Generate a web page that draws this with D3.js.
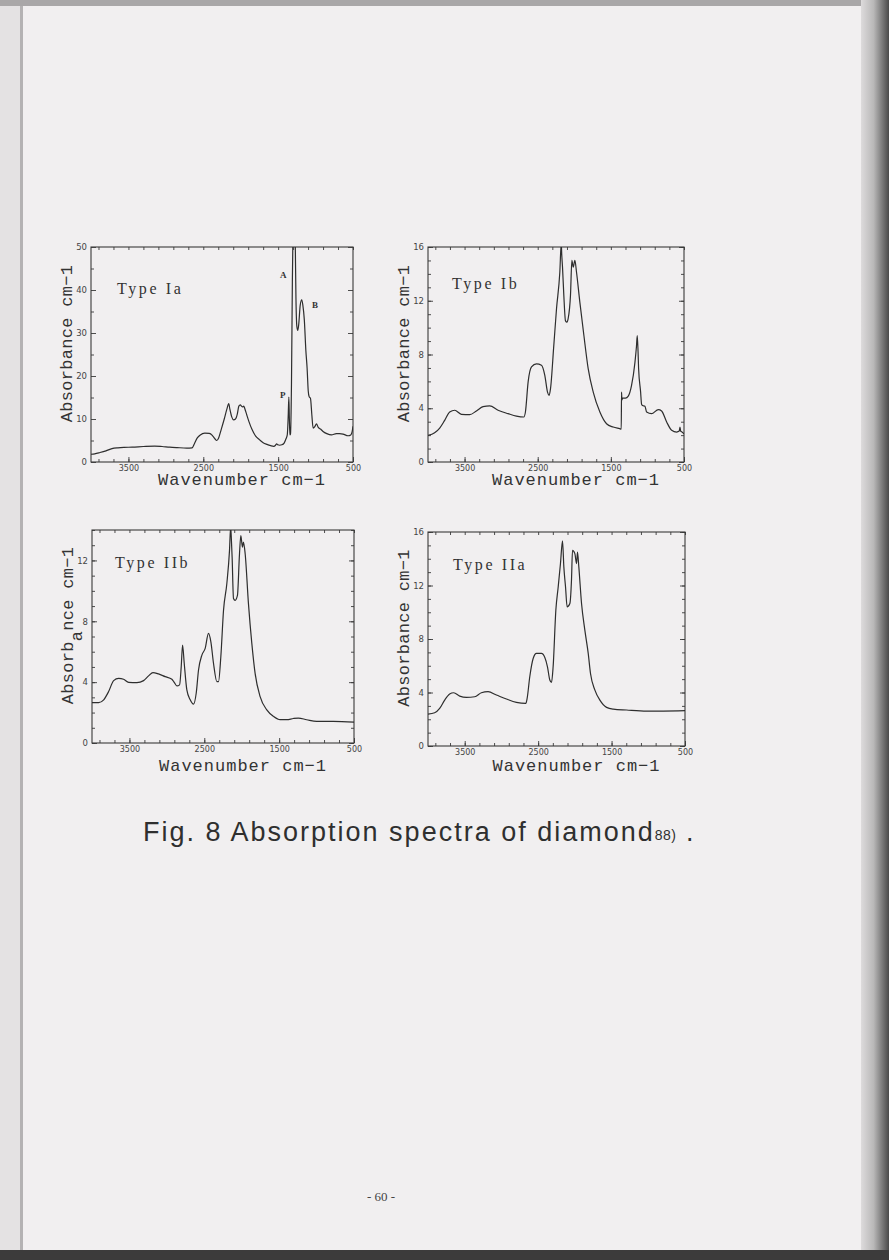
<!DOCTYPE html>
<html>
<head>
<meta charset="utf-8">
<script src="https://cdn.jsdelivr.net/npm/d3@7"></script>
<style>
body{margin:0;background:#efedee;}
svg{display:block;}
</style>
</head>
<body>
<svg id="page" width="889" height="1260"></svg>
<script>
// wavenumber ticks shared by all four panels
var xLabels = [3500, 2500, 1500, 500];
var xMinor = [3900, 3700, 3500, 3300, 3100, 2900, 2700, 2500, 2300, 2100, 1900, 1700, 1500, 1300, 1100, 900, 700, 500];

// Type Ia
var typeIaWave = [4000, 3950, 3880, 3800, 3720, 3640, 3560, 3450, 3300, 3150, 3050, 2950, 2850, 2720, 2650, 2620, 2580, 2540, 2480, 2420, 2380, 2345, 2320, 2295, 2260, 2220, 2185, 2160, 2145, 2120, 2095, 2070, 2045, 2025, 2005, 1990, 1975, 1960, 1945, 1920, 1890, 1850, 1800, 1750, 1700, 1650, 1600, 1560, 1535, 1520, 1505, 1480, 1450, 1420, 1395, 1378, 1366, 1357, 1350, 1343, 1335, 1322, 1310, 1298, 1285, 1272, 1262, 1250, 1238, 1225, 1205, 1185, 1170, 1150, 1130, 1113, 1098, 1086, 1068, 1050, 1033, 1010, 988, 966, 930, 900, 850, 788, 722, 680, 633, 566, 530, 512, 500];
var typeIaAbs = [1.8, 1.9, 2.2, 2.6, 3.1, 3.3, 3.4, 3.45, 3.6, 3.7, 3.6, 3.45, 3.35, 3.25, 3.3, 4.2, 5.6, 6.3, 6.7, 6.65, 6.2, 5.4, 5.0, 5.6, 7.6, 10.0, 12.3, 13.6, 12.3, 10.5, 9.8, 10.0, 11.2, 13.0, 13.3, 13.0, 12.8, 13.0, 12.4, 11.0, 9.4, 7.6, 6.0, 5.2, 4.5, 4.1, 3.8, 3.65, 3.9, 4.25, 4.0, 3.9, 4.0, 4.4, 5.4, 6.3, 10.5, 15.1, 10.0, 6.3, 6.5, 18, 42, 58, 62, 52, 38, 31.5, 30.6, 32, 36.5, 37.7, 36.5, 33, 26, 21.8, 16.5, 15.2, 14.8, 11, 7.9, 8.2, 8.9, 8.1, 7.6, 7.1, 6.6, 6.3, 6.6, 6.6, 6.5, 6.1, 6.3, 7.0, 8.3];
var typeIaTicks = [0, 10, 20, 30, 40, 50];
var typeIaMinor = [5, 15, 25, 35, 45];

// Type Ib
var typeIbWave = [4000, 3909, 3840, 3772, 3703, 3635, 3544, 3430, 3338, 3247, 3156, 3042, 2905, 2791, 2690, 2668, 2631, 2585, 2517, 2449, 2403, 2366, 2344, 2325, 2280, 2243, 2198, 2178, 2172, 2161, 2143, 2120, 2100, 2084, 2052, 2033, 2015, 1992, 1969, 1924, 1869, 1810, 1741, 1650, 1559, 1468, 1380, 1358, 1354, 1349, 1340, 1300, 1262, 1217, 1171, 1150, 1139, 1128, 1121, 1093, 1080, 1066, 1034, 1011, 943, 851, 806, 737, 669, 600, 565, 555, 545, 532, 500];
var typeIbAbs = [1.98, 2.18, 2.53, 3.1, 3.72, 3.85, 3.55, 3.52, 3.8, 4.12, 4.17, 3.85, 3.6, 3.42, 3.35, 3.72, 5.96, 7.07, 7.3, 7.2, 6.45, 5.2, 4.96, 5.46, 8.68, 11.4, 14.1, 16.3, 15.5, 14.5, 12.4, 10.5, 10.4, 10.67, 12.4, 15.0, 14.5, 15.0, 14.1, 11.9, 9.43, 6.95, 5.2, 3.72, 2.85, 2.6, 2.48, 2.45, 5.2, 4.6, 4.75, 4.75, 4.9, 5.7, 7.4, 8.6, 9.4, 8.2, 7.0, 5.2, 4.3, 4.2, 4.15, 3.72, 3.6, 3.9, 3.8, 2.98, 2.36, 2.23, 2.3, 2.6, 2.3, 2.25, 2.1];

// Type IIb
var typeIIbWave = [4000, 3911, 3844, 3778, 3711, 3644, 3578, 3511, 3400, 3311, 3244, 3186, 3111, 3022, 2933, 2902, 2866, 2830, 2808, 2790, 2768, 2733, 2688, 2644, 2608, 2577, 2532, 2488, 2444, 2412, 2377, 2332, 2310, 2279, 2243, 2199, 2163, 2148, 2140, 2128, 2110, 2088, 2057, 2030, 2012, 1990, 1977, 1954, 1910, 1865, 1821, 1754, 1665, 1576, 1487, 1398, 1310, 1243, 1132, 998, 776, 500];
var typeIIbAbs = [2.66, 2.66, 2.84, 3.38, 4.1, 4.25, 4.19, 3.99, 3.97, 4.1, 4.41, 4.63, 4.54, 4.36, 4.19, 3.99, 3.75, 3.82, 5.02, 6.44, 5.24, 3.49, 2.84, 2.55, 3.27, 4.8, 5.78, 6.22, 7.2, 6.65, 5.24, 4.04, 4.04, 5.67, 8.73, 10.47, 12.66, 14.2, 13.6, 12.2, 9.5, 9.38, 9.7, 12.4, 13.64, 12.87, 13.2, 12.44, 9.16, 6.55, 4.58, 3.05, 2.18, 1.75, 1.53, 1.53, 1.61, 1.64, 1.53, 1.42, 1.42, 1.37];
var typeIIbTicks = [0, 4, 8, 12];

// Type IIa
var typeIIaWave = [4000, 3909, 3841, 3773, 3705, 3650, 3568, 3477, 3364, 3273, 3182, 3068, 2932, 2796, 2668, 2650, 2614, 2568, 2523, 2455, 2409, 2373, 2341, 2318, 2296, 2259, 2227, 2196, 2168, 2150, 2127, 2105, 2068, 2046, 2032, 2000, 1977, 1964, 1946, 1909, 1864, 1818, 1787, 1727, 1659, 1568, 1477, 1296, 1023, 796, 500];
var typeIIaAbs = [2.39, 2.49, 2.81, 3.43, 3.88, 3.98, 3.73, 3.63, 3.68, 3.98, 4.06, 3.81, 3.51, 3.26, 3.18, 3.56, 5.18, 6.54, 6.92, 6.92, 6.62, 5.92, 4.93, 4.75, 5.92, 10.15, 11.89, 13.64, 15.33, 13.39, 11.89, 10.4, 10.65, 12.39, 14.63, 14.38, 13.64, 14.5, 13.39, 10.65, 8.66, 6.92, 5.42, 4.18, 3.43, 2.89, 2.76, 2.69, 2.61, 2.61, 2.64];

var sixteenTicks = [0, 4, 8, 12, 16];

(function(){
    var svg = d3.select("#page");
    var ink = "#3a3a3a";

    function drawPage(){
        var defs = svg.append("defs");
        var grad = defs.append("linearGradient").attr("id","edge").attr("x1","0").attr("x2","1");
        grad.append("stop").attr("offset","0").attr("stop-color","#dddbdc");
        grad.append("stop").attr("offset","0.45").attr("stop-color","#b9b8b8");
        grad.append("stop").attr("offset","1").attr("stop-color","#4a4a4a");
        svg.append("rect").attr("width",889).attr("height",1260).attr("fill","#f1eff0");
        svg.append("rect").attr("x",0).attr("y",0).attr("width",20).attr("height",1260).attr("fill","#e4e2e3");
        svg.append("rect").attr("x",20).attr("y",0).attr("width",3).attr("height",1260).attr("fill","#b4b2b3");
        svg.append("rect").attr("x",0).attr("y",0).attr("width",889).attr("height",6).attr("fill","#a9a7a8");
        svg.append("rect").attr("x",861).attr("y",0).attr("width",28).attr("height",1260).attr("fill","url(#edge)");
        svg.append("rect").attr("x",0).attr("y",1250).attr("width",889).attr("height",10).attr("fill","#3c3b3b");
    };

    function drawPanel(p){
        var g = svg.append("g").attr("transform","translate(" + p.left + "," + p.top + ")");
        var x = d3.scaleLinear().domain([4000,500]).range([0,p.width]);
        var y = d3.scaleLinear().domain([0,p.yMax]).range([p.height,0]);

        g.append("clipPath").attr("id","clip" + p.id)
            .append("rect").attr("width",p.width).attr("height",p.height);

        // minor ticks, all four sides, pointing inward
        g.append("g").attr("transform","translate(0," + p.height + ")")
            .call(d3.axisBottom(x).tickValues(xMinor).tickSize(-3).tickFormat(""));
        g.append("g")
            .call(d3.axisTop(x).tickValues(xMinor).tickSize(-3).tickFormat(""));
        g.append("g")
            .call(d3.axisLeft(y).tickValues(p.yMinor).tickSize(-3).tickFormat(""));
        g.append("g").attr("transform","translate(" + p.width + ",0)")
            .call(d3.axisRight(y).tickValues(p.yMinor).tickSize(-3).tickFormat(""));

        // labelled ticks
        var xAxis = g.append("g").attr("class","xlab").attr("transform","translate(0," + p.height + ")")
            .call(d3.axisBottom(x).tickValues(xLabels).tickSize(-5).tickPadding(3).tickFormat(d3.format("d")));
        var yAxis = g.append("g").attr("class","ylab")
            .call(d3.axisLeft(y).tickValues(p.yTicks).tickSize(-5).tickPadding(4).tickFormat(d3.format("d")));
        g.append("g").attr("transform","translate(" + p.width + ",0)")
            .call(d3.axisRight(y).tickValues(p.yTicks).tickSize(-5).tickFormat(""));

        g.selectAll(".domain").remove();
        g.selectAll(".tick line").attr("stroke",ink).attr("stroke-width",0.9);
        g.selectAll(".tick text").attr("fill","#444").attr("font-family","DejaVu Sans, sans-serif");
        xAxis.selectAll("text").attr("font-size",8);
        yAxis.selectAll("text").attr("font-size",8.5);

        g.append("rect").attr("width",p.width).attr("height",p.height)
            .attr("fill","none").attr("stroke",ink).attr("stroke-width",1.1);

        var line = d3.line()
            .x(function(d){return x(d[0]);})
            .y(function(d){return y(d[1]);})
            .curve(d3.curveMonotoneX);
        g.append("path")
            .datum(d3.zip(p.wave,p.abs))
            .attr("clip-path","url(#clip" + p.id + ")")
            .attr("d",line)
            .attr("fill","none")
            .attr("stroke","#2e2e2e")
            .attr("stroke-width",1.2)
            .attr("stroke-linejoin","round");

        // sample name
        g.append("text").attr("x",p.nameX).attr("y",p.nameY)
            .attr("font-family","Liberation Serif, serif").attr("font-size",16)
            .attr("letter-spacing",2.6).attr("fill","#333")
            .text(p.name);

        // axis titles
        g.append("text").attr("x",p.width/2 + 20).attr("y",p.height + p.titleGap)
            .attr("text-anchor","middle")
            .attr("font-family","Liberation Mono, monospace").attr("font-size",17)
            .attr("letter-spacing",1).attr("fill","#333")
            .text("Wavenumber cm\u22121");
        var yt = g.append("text")
            .attr("transform","translate(-19," + (p.height/2 - 11) + ") rotate(-90)")
            .attr("text-anchor","middle")
            .attr("font-family","Liberation Mono, monospace").attr("font-size",17)
            .attr("letter-spacing",0.3).attr("fill","#333");
        if (p.typo){
            yt.append("tspan").text("Absorb");
            yt.append("tspan").attr("dy","0.5em").text("a");
            yt.append("tspan").attr("dy","-0.5em").text("nce cm\u22121");
        } else {
            yt.text("Absorbance cm\u22121");
        }

        if (p.marks){
            p.marks.forEach(function(m){
                g.append("text").attr("x",x(m.w)).attr("y",y(m.a))
                    .attr("text-anchor","middle")
                    .attr("font-family","Liberation Serif, serif").attr("font-size",9)
                    .attr("font-weight","bold").attr("fill","#333")
                    .text(m.t);
            });
        }
    };

    drawPage();

    drawPanel({id:1, left:91, top:247, width:262, height:215, yMax:50,
        yTicks:typeIaTicks, yMinor:typeIaMinor, wave:typeIaWave, abs:typeIaAbs,
        name:"Type Ia", nameX:26, nameY:47, titleGap:23,
        marks:[{t:"A", w:1431, a:42.8}, {t:"B", w:1008, a:35.8}, {t:"P", w:1439, a:15}]});
    drawPanel({id:2, left:428, top:247, width:256, height:215, yMax:16,
        yTicks:sixteenTicks, yMinor:d3.range(0,17), wave:typeIbWave, abs:typeIbAbs,
        name:"Type Ib", nameX:24, nameY:42, titleGap:23});
    drawPanel({id:3, left:92, top:530, width:262, height:213, yMax:14,
        yTicks:typeIIbTicks, yMinor:d3.range(0,15), wave:typeIIbWave, abs:typeIIbAbs,
        name:"Type IIb", nameX:23, nameY:38, titleGap:28, typo:true});
    drawPanel({id:4, left:428, top:532, width:257, height:214, yMax:16,
        yTicks:sixteenTicks, yMinor:d3.range(0,17), wave:typeIIaWave, abs:typeIIaAbs,
        name:"Type IIa", nameX:25, nameY:38, titleGap:25});

    // caption and folio
    var cap = svg.append("text").attr("x",143).attr("y",841)
        .attr("font-family","Liberation Sans, Arial, sans-serif").attr("font-size",27)
        .attr("letter-spacing",2).attr("fill","#2f2f2f");
    cap.append("tspan").text("Fig. 8 Absorption spectra of diamond");
    cap.append("tspan").attr("font-size",14).attr("letter-spacing",0.5).attr("dy","-1").text("88)");
    cap.append("tspan").attr("dy","1").text(" .");

    svg.append("text").attr("x",381).attr("y",1201).attr("text-anchor","middle")
        .attr("font-family","Liberation Serif, serif").attr("font-size",13)
        .attr("fill","#444").text("- 60 -");
}) ();
</script>
</body>
</html>
